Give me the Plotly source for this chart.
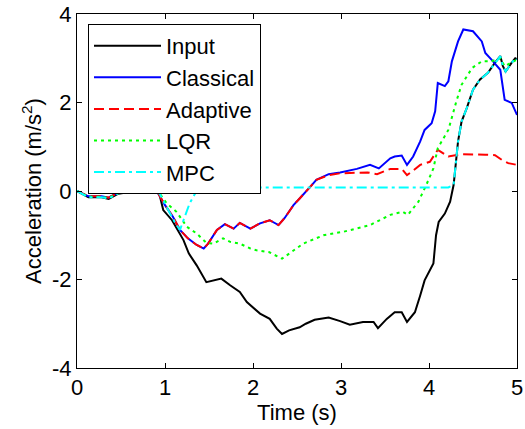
import plotly.graph_objects as go

# ---- data ----
t_input = [0, 0.13, 0.28, 0.36, 0.47, 0.58, 0.7, 0.81, 0.87, 0.94, 0.98, 1.08, 1.15, 1.21, 1.27,
           1.36, 1.47, 1.56, 1.64, 1.74, 1.85, 1.93, 2.08, 2.19, 2.27, 2.33, 2.41, 2.53, 2.6, 2.7,
           2.86, 2.99, 3.1, 3.25, 3.37, 3.42, 3.52, 3.61, 3.69, 3.75, 3.84, 3.9, 3.95, 4.05, 4.08,
           4.11, 4.18, 4.24, 4.28, 4.33, 4.37, 4.43, 4.5, 4.58, 4.67, 4.75, 4.81, 4.84, 4.87, 4.94,
           4.98, 5.0]
y_input = [0, -0.14, -0.14, -0.18, -0.06, -0.03, 0.01, 0.08, 0.1, -0.1, -0.43, -0.66, -0.92, -1.11, -1.41,
           -1.68, -2.06, -2.02, -1.98, -2.13, -2.28, -2.51, -2.77, -2.89, -3.11, -3.23, -3.15, -3.08, -3.0, -2.91,
           -2.86, -2.94, -3.02, -2.96, -2.96, -3.1, -2.89, -2.74, -2.74, -2.96, -2.74, -2.36, -2.02, -1.64, -1.0,
           -0.7, -0.51, -0.24, 0.14, 1.12, 1.57, 1.88, 2.29, 2.52, 2.67, 2.9, 3.05, 2.82, 2.7, 2.9,
           3.0, 2.98]

t_classical = [0, 0.13, 0.28, 0.36, 0.47, 0.58, 0.7, 0.81, 0.87, 0.94, 1.0, 1.09, 1.17, 1.26, 1.36,
               1.44, 1.49, 1.59, 1.68, 1.78, 1.85, 1.97, 2.08, 2.19, 2.29, 2.36, 2.46, 2.53, 2.61, 2.67,
               2.72, 2.86, 2.99, 3.18, 3.33, 3.43, 3.56, 3.61, 3.69, 3.75, 3.82, 3.9, 3.95, 4.03, 4.07,
               4.1, 4.18, 4.22, 4.26, 4.33, 4.39, 4.5, 4.6, 4.64, 4.71, 4.81, 4.86, 4.94, 5.0]
y_classical = [0, -0.12, -0.12, -0.15, -0.03, 0.0, 0.05, 0.12, 0.13, -0.1, -0.32, -0.58, -0.88, -1.07, -1.22,
               -1.3, -1.19, -0.88, -0.75, -0.85, -0.72, -0.85, -0.73, -0.66, -0.77, -0.61, -0.32, -0.17, 0.02, 0.14,
               0.25, 0.38, 0.42, 0.5, 0.59, 0.51, 0.74, 0.78, 0.8, 0.59, 0.78, 1.12, 1.38, 1.53, 1.8,
               2.44, 2.37, 2.48, 2.93, 3.38, 3.65, 3.61, 3.38, 3.12, 2.97, 2.74, 2.06, 1.99, 1.72]

t_adaptive = [0, 0.13, 0.28, 0.36, 0.47, 0.58, 0.7, 0.81, 0.87, 0.94, 1.0, 1.09, 1.17, 1.26, 1.36,
              1.44, 1.49, 1.59, 1.68, 1.78, 1.85, 1.97, 2.08, 2.19, 2.29, 2.36, 2.46, 2.53, 2.61, 2.67,
              2.72, 2.86, 2.99, 3.18, 3.3, 3.41, 3.56, 3.69, 3.75, 3.8, 3.9, 4.01, 4.1, 4.22, 4.37,
              4.64, 4.75, 4.83, 4.9, 5.0]
y_adaptive = [0, -0.12, -0.12, -0.15, -0.03, 0.0, 0.05, 0.12, 0.13, -0.1, -0.32, -0.58, -0.88, -1.07, -1.22,
              -1.3, -1.19, -0.88, -0.75, -0.85, -0.72, -0.85, -0.73, -0.66, -0.77, -0.61, -0.32, -0.17, 0.02, 0.14,
              0.25, 0.36, 0.4, 0.42, 0.42, 0.38, 0.5, 0.5, 0.36, 0.43, 0.59, 0.66, 0.93, 0.78, 0.83,
              0.82, 0.81, 0.7, 0.63, 0.59]

t_lqr = [0, 0.13, 0.28, 0.36, 0.47, 0.58, 0.7, 0.81, 0.87, 0.94, 1.02, 1.13, 1.25, 1.36, 1.47,
         1.55, 1.66, 1.74, 1.85, 1.97, 2.04, 2.18, 2.33, 2.57, 2.8, 3.03, 3.33, 3.56, 3.61, 3.7,
         3.76, 3.88, 3.97, 4.05, 4.1, 4.22, 4.31, 4.37, 4.49, 4.6, 4.71, 4.81, 4.86, 4.94, 5.0]
y_lqr = [0, -0.13, -0.13, -0.16, -0.05, -0.01, 0.03, 0.1, 0.11, -0.06, -0.28, -0.47, -0.81, -0.96, -1.17,
         -1.19, -1.07, -1.15, -1.19, -1.3, -1.34, -1.38, -1.53, -1.19, -1.0, -0.92, -0.77, -0.54, -0.51, -0.47,
         -0.54, -0.24, 0.14, 0.51, 0.97, 1.38, 2.02, 2.4, 2.78, 2.93, 2.93, 3.0, 2.82, 2.9, 2.97]

t_mpc = [0, 0.13, 0.28, 0.36, 0.47, 0.58, 0.7, 0.81, 0.87, 0.94, 1.0, 1.11, 1.17, 1.28, 1.38,
         4.22, 4.28, 4.33, 4.37, 4.43, 4.5, 4.58, 4.67, 4.75, 4.81, 4.84, 4.87, 4.94, 4.98, 5.0]
y_mpc = [0, -0.14, -0.14, -0.17, -0.05, -0.02, 0.02, 0.09, 0.1, -0.07, -0.3, -0.7, -0.88, -0.28, 0.08,
         0.08, 0.14, 1.12, 1.57, 1.88, 2.29, 2.52, 2.67, 2.9, 3.05, 2.82, 2.7, 2.9, 3.0, 2.98]

x_ticks = [0, 1, 2, 3, 4, 5]
y_ticks = [-4, -2, 0, 2, 4]
y_tick_labels = ["-4", "-2", "0", "2", "4"]

FONT = "Liberation Sans, Arial, sans-serif"

fig = go.Figure()
fig.add_trace(go.Scatter(x=t_input, y=y_input, mode="lines", name="Input",
                         line=dict(color="#000000", width=2)))
fig.add_trace(go.Scatter(x=t_classical, y=y_classical, mode="lines", name="Classical",
                         line=dict(color="#0000FF", width=2)))
fig.add_trace(go.Scatter(x=t_adaptive, y=y_adaptive, mode="lines", name="Adaptive",
                         line=dict(color="#FF0000", width=2, dash="10px,5px")))
fig.add_trace(go.Scatter(x=t_lqr, y=y_lqr, mode="lines", name="LQR",
                         line=dict(color="#00FF00", width=2, dash="3px,4px")))
fig.add_trace(go.Scatter(x=t_mpc, y=y_mpc, mode="lines", name="MPC",
                         line=dict(color="#00FFFF", width=2, dash="10px,4px,3px,4px")))

axis_common = dict(showline=True, linecolor="black", linewidth=1, mirror="ticks",
                   ticks="inside", ticklen=5, tickcolor="black", showgrid=False, zeroline=False,
                   automargin=False,
                   tickfont=dict(family=FONT, size=22, color="black"))

fig.update_xaxes(range=[0, 5], tickvals=x_ticks, **axis_common,
                 title=dict(text="Time (s)", font=dict(family=FONT, size=22, color="black"), standoff=2))
fig.update_yaxes(range=[-4, 4], tickvals=y_ticks, ticktext=y_tick_labels, **axis_common,
                 title=dict(text="Acceleration (m/s<sup>2</sup>)", font=dict(family=FONT, size=22, color="black"),
                            standoff=4))

fig.update_layout(
    width=525, height=429,
    margin=dict(l=77, r=8, t=14, b=61),
    paper_bgcolor="white", plot_bgcolor="white",
    font=dict(family=FONT, size=22, color="black"),
    showlegend=True,
    legend=dict(x=0.025, y=0.972, xanchor="left", yanchor="top",
                bgcolor="white", bordercolor="black", borderwidth=1,
                font=dict(family=FONT, size=22, color="black"),
                itemwidth=67),
)

# remove the browser's default 8px body margin so the figure sits at the page origin
fig.write_html("out.html",
               config={"displayModeBar": False},
               post_script="document.body.style.margin='0';document.body.style.overflow='hidden';")
